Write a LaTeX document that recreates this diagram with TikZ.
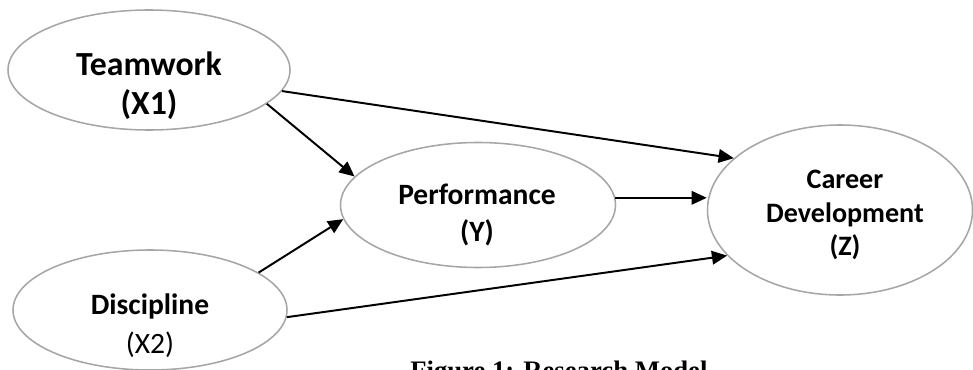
\documentclass[tikz,border=0pt]{standalone}
\usepackage{fontspec}
\setmainfont{Carlito}
\newfontfamily\capfont{Liberation Serif}
\usetikzlibrary{shapes}
\usetikzlibrary{calc}
\usetikzlibrary{arrows, arrows.meta}

\begin{document}
\begin{tikzpicture}[
	var/.style={ellipse,draw=gray!70,line width=1.1pt,inner sep=0pt},
	vartext/.style={align=center,inner sep=0pt},
	link/.style={line width=1.4pt,-{Triangle[length=3.8mm,width=3.4mm]}}]
	\useasboundingbox (0,0) rectangle (24.325,9.225);
	\clip (0,0) rectangle (24.325,9.225);
	
	%ELLIPSES
	\node[var,minimum width=7.05cm,minimum height=3cm] (tw) at (3.725,7.475) {};
	\node[var,minimum width=6.85cm,minimum height=3cm] (dp) at (3.75,1.475) {};
	\node[var,minimum width=6.875cm,minimum height=3.125cm] (pf) at (11.95,4.1) {};
	\node[var,minimum width=6.625cm,minimum height=4.25cm] (cd) at (21.0,3.975) {};
	
	%LABELS
	\node[vartext,font=\bfseries\fontsize{24}{28}\selectfont] (twlab) at (3.725,7.075) {Teamwork \\ (X1)};
	\node[vartext,font=\bfseries\fontsize{21}{28}\selectfont] (dplab) at (3.75,1.075) {Discipline \\ \mdseries (X2)};
	\node[vartext,font=\bfseries\fontsize{21}{26}\selectfont] (pflab) at (11.925,3.85) {Performance \\ (Y)};
	\node[vartext,font=\bfseries\fontsize{20}{24}\selectfont] (cdlab) at (21.125,3.85) {Career \\ Development \\ (Z)};
	
	%ARROWS
	\draw[link] (tw.-9) -- (cd.154);
	\draw[link] (tw.-16) -- (pf.167);
	\draw[link] (dp.19) -- (pf.186);
	\draw[link] (pf.3) -- (pf.3 -| cd.west);
	\draw[link] (dp.-3) -- (cd.202);
	
	%CAPTION
	\node[anchor=base west,inner sep=0pt,font=\capfont\bfseries\fontsize{19}{23}\selectfont] (cap) at (10.25,-0.25) {Figure 1: Research Model};
\end{tikzpicture}
\end{document}
